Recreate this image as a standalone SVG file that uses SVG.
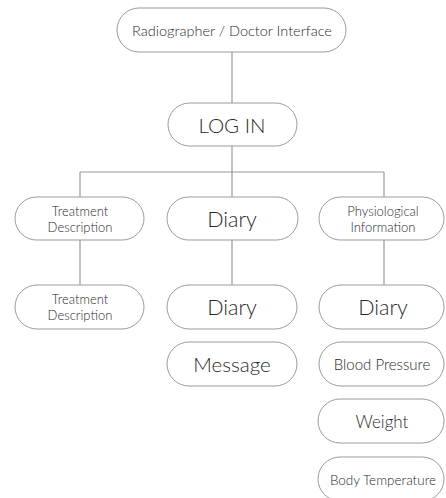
<svg xmlns="http://www.w3.org/2000/svg" width="446" height="498" viewBox="0 0 446 498">
<style>
.n{fill:#fff;stroke:#9a9a9a;stroke-width:1}
.c{stroke:#9a9a9a;stroke-width:1.2;fill:none}
text{font-family:Lato,"Noto Sans",sans-serif;font-weight:300;fill:#2a2a2a;text-anchor:middle;dominant-baseline:central}
</style>
<rect width="446" height="498" fill="#fff"/>
<g id="connectors">
<path class="c" d="M232 52V103M232 146V197M80 172H384M80 172V197M384 172V197M80 240V285M232 240V285M384 240V285"/>
</g>
<g id="top"><rect class="n" x="117" y="8" width="229" height="44" rx="22"/><text x="232" y="30" font-size="14.5">Radiographer / Doctor Interface</text></g>
<g id="login"><rect class="n" x="168" y="103" width="129" height="43" rx="21.5"/><text x="232" y="125" font-size="20.5">LOG IN</text></g>
<g id="treat1"><rect class="n" x="15" y="197" width="129" height="43" rx="21.5"/><text x="80" y="211" font-size="13">Treatment</text><text x="80" y="227" font-size="13">Description</text></g>
<g id="diary1"><rect class="n" x="167" y="197" width="131" height="43" rx="21.5"/><text x="232" y="219" font-size="21.5">Diary</text></g>
<g id="phys1"><rect class="n" x="319" y="197" width="125" height="43" rx="21.5"/><text x="383" y="211" font-size="13">Physiological</text><text x="383" y="227" font-size="13">Information</text></g>
<g id="treat2"><rect class="n" x="15" y="285" width="129" height="44" rx="22"/><text x="80" y="299" font-size="13">Treatment</text><text x="80" y="315" font-size="13">Description</text></g>
<g id="diary2"><rect class="n" x="167" y="285" width="130" height="44" rx="22"/><text x="232" y="307" font-size="21.5">Diary</text></g>
<g id="diary3"><rect class="n" x="319" y="285" width="125" height="44" rx="22"/><text x="383" y="307" font-size="21.5">Diary</text></g>
<g id="message"><rect class="n" x="167" y="342" width="130" height="44" rx="22"/><text x="232" y="364" font-size="20.5">Message</text></g>
<g id="bp"><rect class="n" x="319" y="342" width="125" height="44" rx="22"/><text x="382" y="364" font-size="15">Blood Pressure</text></g>
<g id="weight"><rect class="n" x="318" y="399" width="126" height="44" rx="22"/><text x="382" y="421" font-size="17">Weight</text></g>
<g id="bodytemp"><rect class="n" x="318" y="457" width="126" height="44" rx="22"/><text x="383" y="480" font-size="13.5">Body Temperature</text></g>
</svg>
